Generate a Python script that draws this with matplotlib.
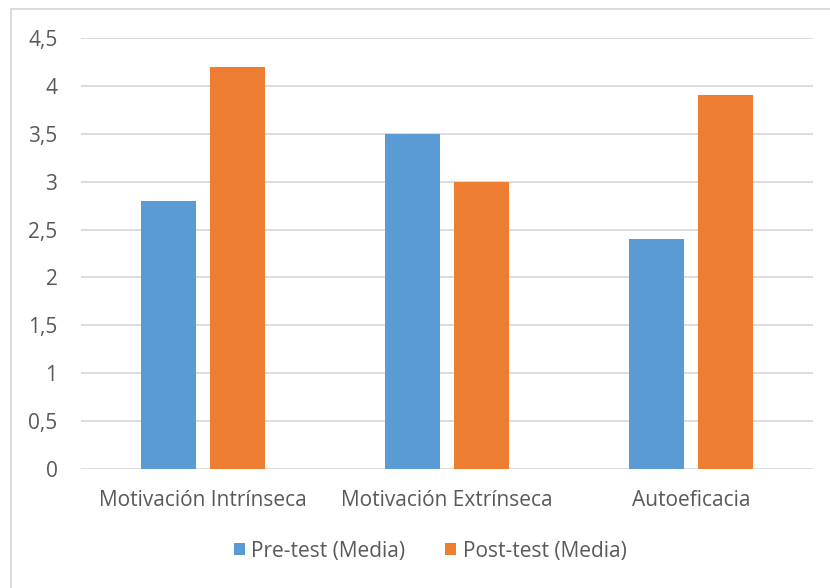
import matplotlib.pyplot as plt
import numpy as np
from matplotlib.patches import Rectangle

plt.rcParams['font.family'] = ['Open Sans', 'DejaVu Sans']

categories = ['Motivación Intrínseca', 'Motivación Extrínseca', 'Autoeficacia']
pre_test = [2.8, 3.5, 2.4]
post_test = [4.2, 3.0, 3.9]
series_names = ['Pre-test (Media)', 'Post-test (Media)']
yticks = [0, 0.5, 1, 1.5, 2, 2.5, 3, 3.5, 4, 4.5]
ytick_labels = ['0', '0,5', '1', '1,5', '2', '2,5', '3', '3,5', '4', '4,5']

text_color = '#595959'
grid_color = '#d9d9d9'
blue = '#5b9bd5'
orange = '#ed7d31'
fs = 15

fig = plt.figure(figsize=(8.3, 5.88), dpi=100)
ax = fig.add_axes([81 / 830, 1 - 469 / 588, (813 - 81) / 830, (469 - 38) / 588])

# chart border (light gray frame, runs off right and bottom edges)
fig.patches.append(Rectangle((11 / 830, -0.1), 1.2, 1 - 9 / 588 + 0.1,
                             transform=fig.transFigure, fill=False,
                             edgecolor=grid_color, linewidth=1.3))

x = np.arange(len(categories))
w = 0.225
off = 0.142
ax.bar(x - off, pre_test, w, color=blue, label=series_names[0], zorder=3)
ax.bar(x + off, post_test, w, color=orange, label=series_names[1], zorder=3)

ax.set_xlim(-0.5, 2.5)
ax.set_ylim(0, 4.5)
ax.set_yticks(yticks)
ax.set_yticklabels(ytick_labels)
ax.set_xticks(x)
ax.set_xticklabels(categories)
ax.yaxis.grid(True, color=grid_color, linewidth=1.3, zorder=0)
ax.tick_params(axis='both', length=0, colors=text_color, labelsize=fs)
ax.tick_params(axis='y', pad=17)
ax.tick_params(axis='x', pad=15)
for s in ax.spines.values():
    s.set_visible(False)

leg = fig.legend(loc='center', bbox_to_anchor=(430 / 830, 1 - 551 / 588), ncol=2,
                 frameon=False, fontsize=fs, handlelength=0.55, handleheight=0.55,
                 handletextpad=0.3, columnspacing=1.9)
for t in leg.get_texts():
    t.set_color(text_color)

fig.savefig('out.png', dpi=100)
